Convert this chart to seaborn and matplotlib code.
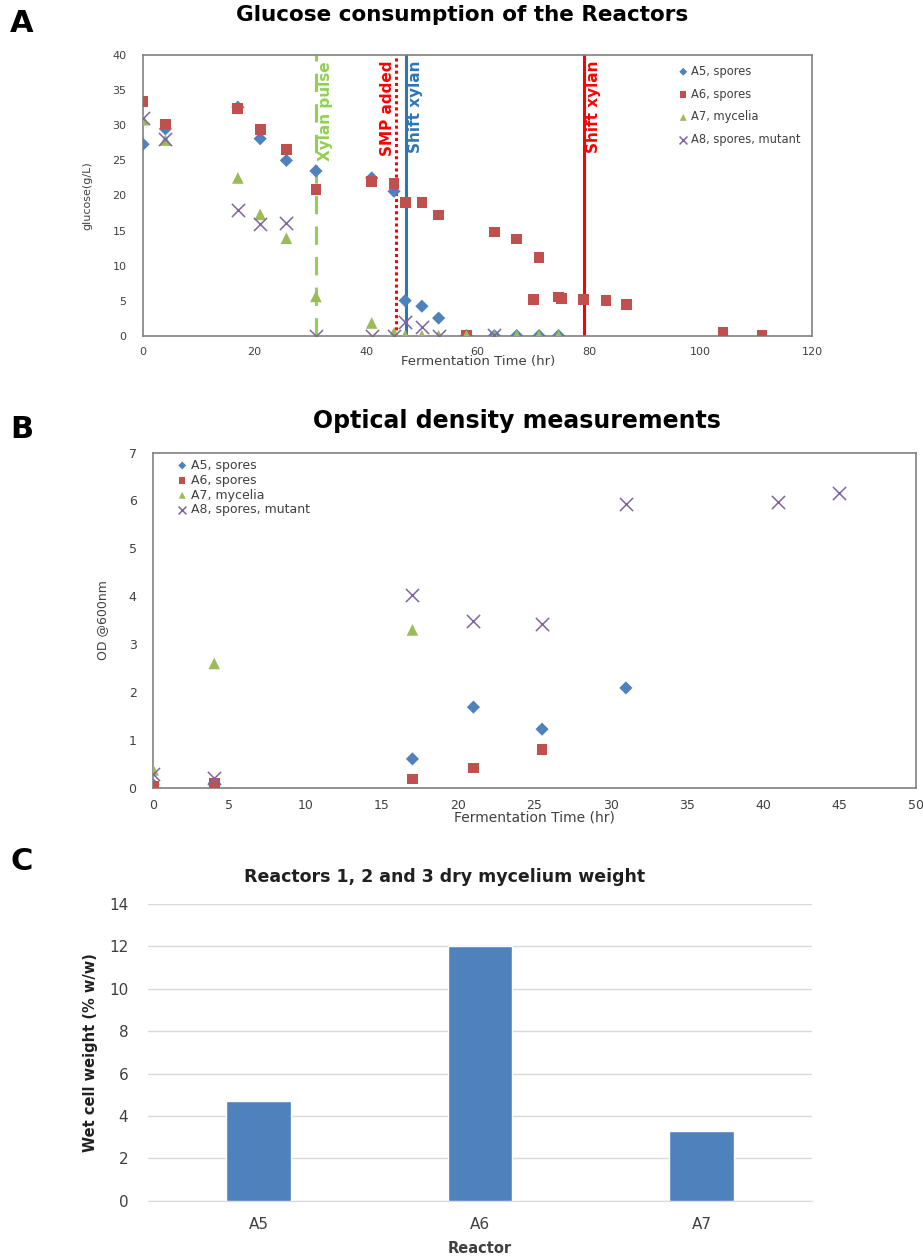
import matplotlib
matplotlib.use("Agg")
import matplotlib.pyplot as plt
import seaborn as sns
import pandas as pd

# ---------------- data ----------------
# Panel A: glucose (g/L) vs fermentation time (hr)
a5_t = [0, 4, 17, 21, 25.7, 31, 41, 45, 47, 50, 53, 58, 63, 67, 71, 74.5]
a5_g = [27.3, 29.5, 32.6, 28.1, 25.0, 23.5, 22.5, 20.6, 5.0, 4.2, 2.5, 0, 0, 0, 0, 0]
a6_t = [0, 4, 17, 21, 25.7, 31, 41, 45, 47, 50, 53, 58, 63, 67, 70, 71, 74.5, 75, 79, 83, 86.7, 104, 111]
a6_g = [33.4, 30.2, 32.4, 29.4, 26.6, 20.9, 22.0, 21.7, 19.0, 19.0, 17.2, 0, 14.8, 13.8, 5.2, 11.2, 5.5, 5.3, 5.2, 5.0, 4.4, 0.5, 0.0]
a7_t = [0, 4, 17, 21, 25.7, 31, 41, 45, 47, 50, 53, 58, 63, 67, 71, 74.5]
a7_g = [30.8, 27.9, 22.5, 17.3, 13.9, 5.6, 1.8, 0.4, 0, 0, 0, 0, 0, 0, 0, 0]
a8_t = [0, 4, 17, 21, 25.7, 31, 41, 45, 47, 50, 53, 63]
a8_g = [31.0, 28.1, 17.9, 15.9, 16.0, 0, 0, 0, 1.9, 1.3, 0, 0.1]

events_t = [31, 45.4, 47.1, 79.1]
events_lbl = ["Xylan pulse", "SMP added", "Shift xylan", "Shift xylan"]

# Panel B: OD600 vs fermentation time (hr)
b5_t = [0, 4, 17, 21, 25.5, 31]
b5_od = [0.07, 0.1, 0.61, 1.69, 1.23, 2.09]
b6_t = [0, 4, 17, 21, 25.5]
b6_od = [0.03, 0.1, 0.19, 0.42, 0.8]
b7_t = [0, 4, 17]
b7_od = [0.38, 2.6, 3.3]
b8_t = [0, 4, 17, 21, 25.5, 31, 41, 45]
b8_od = [0.29, 0.22, 4.02, 3.48, 3.43, 5.93, 5.96, 6.16]

# Panel C: wet cell weight
reactors = ["A5", "A6", "A7"]
wcw = [4.7, 12.0, 3.3]

series_names = ["A5, spores", "A6, spores", "A7, mycelia", "A8, spores, mutant"]

# ---------------- style ----------------
sns.set_style("white")
plt.rcParams["font.family"] = ["DejaVu Sans"]
plt.rcParams["text.color"] = "black"

C_BLUE = "#4F81BD"
C_RED = "#C0504D"
C_GREEN = "#9BBB59"
C_PURPLE = "#8064A2"
colors = [C_BLUE, C_RED, C_GREEN, C_PURPLE]
markers = ["D", "s", "^", "x"]
sizes = [45, 60, 70, 90]
TXT = "#404040"

fig = plt.figure(figsize=(9.23, 12.57), dpi=100)


def scatter_series(ax, ts, vs, size_scale=1.0):
    for name, t, v, c, m, s in zip(series_names, ts, vs, colors, markers, sizes):
        df = pd.DataFrame({"t": t, "v": v})
        kw = dict(data=df, x="t", y="v", ax=ax, color=c, marker=m, s=s * size_scale,
                  label=name, zorder=3)
        if m == "x":
            kw["linewidth"] = 1.1
        else:
            kw["edgecolor"] = "none"
        sns.scatterplot(**kw)


def style_box(ax):
    for sp in ax.spines.values():
        sp.set_visible(True)
        sp.set_color("#808080")
        sp.set_linewidth(1.2)


# ---------------- Panel A ----------------
axA = fig.add_axes([0.155, 0.733, 0.725, 0.223])
scatter_series(axA, [a5_t, a6_t, a7_t, a8_t], [a5_g, a6_g, a7_g, a8_g])
axA.set_xlim(0, 120)
axA.set_ylim(0, 40)
axA.set_xticks(range(0, 121, 20))
axA.set_yticks(range(0, 41, 5))
axA.tick_params(labelsize=8, length=0, labelcolor=TXT)
axA.tick_params(axis="y", pad=12)
axA.tick_params(axis="x", pad=8)
axA.set_xlabel("Fermentation Time (hr)", fontsize=9.5, color=TXT, labelpad=-1)
axA.set_ylabel("glucose(g/L)", fontsize=8, color=TXT, labelpad=14)
style_box(axA)

ev_style = [
    dict(color="#92D050", ls=(0, (6, 4)), lw=2.2),
    dict(color="#FF0000", ls=(0, (1, 1)), lw=2.2),
    dict(color="#2E75B6", ls="-", lw=2.2),
    dict(color="#FF0000", ls="-", lw=2.2),
]
txt_cols = ["#92D050", "#FF0000", "#2E75B6", "#FF0000"]
for i, (t, lbl) in enumerate(zip(events_t, events_lbl)):
    axA.axvline(t, zorder=2, **ev_style[i])
    if i == 1:
        axA.text(t - 0.3, 39.2, lbl, rotation=90, ha="right", va="top",
                 color=txt_cols[i], fontsize=11, fontweight="bold")
    else:
        axA.text(t + 0.4, 39.2, lbl, rotation=90, ha="left", va="top",
                 color=txt_cols[i], fontsize=11, fontweight="bold")

legA = axA.legend(loc="upper right", frameon=False, fontsize=8.3, markerscale=0.6,
                  handletextpad=0.1, borderaxespad=0.3, labelspacing=0.85,
                  handlelength=1.2, bbox_to_anchor=(0.995, 0.995))
for t in legA.get_texts():
    t.set_color(TXT)

fig.text(462 / 923, 1 - 15 / 1257, "Glucose consumption of the Reactors",
         ha="center", va="center", fontsize=15.5, fontweight="bold", color="black")
fig.text(10 / 923, 1 - 24 / 1257, "A", ha="left", va="center", fontsize=22,
         fontweight="bold", color="black")

# ---------------- Panel B ----------------
axB = fig.add_axes([0.166, 0.373, 0.826, 0.267])
scatter_series(axB, [b5_t, b6_t, b7_t, b8_t], [b5_od, b6_od, b7_od, b8_od])
axB.set_xlim(0, 50)
axB.set_ylim(0, 7)
axB.set_xticks(range(0, 51, 5))
axB.set_yticks(range(0, 8, 1))
axB.tick_params(labelsize=9, length=0, labelcolor=TXT)
axB.tick_params(axis="y", pad=12)
axB.tick_params(axis="x", pad=8)
axB.set_xlabel("Fermentation Time (hr)", fontsize=10, color=TXT, labelpad=-1)
axB.set_ylabel("OD @600nm", fontsize=9, color=TXT, labelpad=14)
style_box(axB)
legB = axB.legend(loc="upper left", frameon=False, fontsize=9, markerscale=0.6,
                  handletextpad=0.1, borderaxespad=0.1, labelspacing=0.15,
                  handlelength=1.2, bbox_to_anchor=(0.02, 1.0))
for t in legB.get_texts():
    t.set_color(TXT)

fig.text(517 / 923, 1 - 421 / 1257, "Optical density measurements",
         ha="center", va="center", fontsize=17, fontweight="bold", color="black")
fig.text(10 / 923, 1 - 430 / 1257, "B", ha="left", va="center", fontsize=22,
         fontweight="bold", color="black")

# ---------------- Panel C ----------------
axC = fig.add_axes([0.160, 0.0448, 0.720, 0.236])
dfC = pd.DataFrame({"Reactor": reactors, "wcw": wcw})
sns.barplot(data=dfC, x="Reactor", y="wcw", ax=axC, color=C_BLUE, width=0.29,
            saturation=1, zorder=3)
axC.set_ylim(0, 14)
axC.set_yticks(range(0, 15, 2))
axC.grid(axis="y", color="#D9D9D9", lw=1, zorder=0)
for s in ["left", "right", "top"]:
    axC.spines[s].set_visible(False)
axC.spines["bottom"].set_color("#D9D9D9")
axC.tick_params(labelsize=11, length=0, labelcolor=TXT)
axC.tick_params(axis="y", pad=14)
axC.tick_params(axis="x", pad=12)
axC.set_xlabel("Reactor", fontsize=10.5, fontweight="bold", color=TXT, labelpad=6)
axC.set_ylabel("Wet cell weight (% w/w)", fontsize=10.5, fontweight="bold",
               color="#202020", labelpad=8)

fig.text(445 / 923, 1 - 877 / 1257, "Reactors 1, 2 and 3 dry mycelium weight",
         ha="center", va="center", fontsize=12.5, fontweight="bold", color="#202020")
fig.text(10 / 923, 1 - 861 / 1257, "C", ha="left", va="center", fontsize=22,
         fontweight="bold", color="black")

fig.savefig("out.png", dpi=100)
